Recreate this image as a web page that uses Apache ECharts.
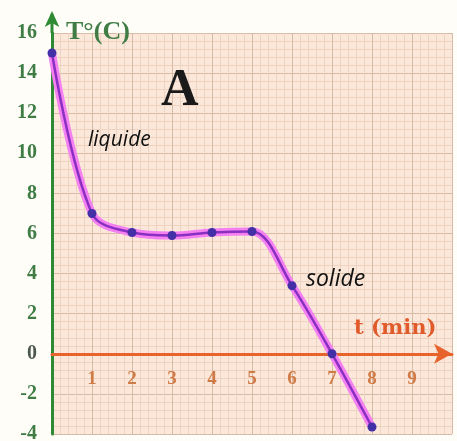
<!DOCTYPE html>
<html>
<head>
<meta charset="utf-8">
<script src="https://cdn.jsdelivr.net/npm/echarts@6/dist/echarts.min.js"></script>
<style>
  html, body { margin: 0; padding: 0; background: #fffdf8; }
  #chart { width: 457px; height: 441px; }
</style>
</head>
<body>
<div id="chart"></div>
<script>
// temps relevees chaque minute
var times = [0, 1, 2, 3, 4, 5, 6, 7, 8];
var temps = [15, 7, 6.05, 5.9, 6.05, 6.1, 3.4, 0, -3.65];
var yTicks = [-4, -2, 0, 2, 4, 6, 8, 10, 12, 14, 16];
var xTicks = [1, 2, 3, 4, 5, 6, 7, 8, 9];

var points = times.map(function (t, i) { return [t, temps[i]]; });

function txt(left, top, text, color, size, weight, family, style) {
  return {
    left: left,
    top: top,
    text: text,
    padding: 0,
    textStyle: {
      color: color,
      fontSize: size,
      fontWeight: weight,
      fontFamily: family,
      fontStyle: style || "normal"
    }
  };
}

var chart = echarts.init(document.getElementById("chart"));
var option = {
  backgroundColor: "#fffdf8",
  animation: false,
  title: [
    txt(66, 19, "T°(C)", "#3f7d45", 26, "bold", "Liberation Serif"),
    txt(161, 66, "A", "#1a1a1a", 52, "bold", "Liberation Serif"),
    txt(88, 130, "liquide", "#111", 21, "normal", "Open Sans", "italic"),
    txt(306, 268, "solide", "#111", 23, "normal", "Open Sans", "italic"),
    txt(354, 318, "t (min)", "#e05a2a", 21, "bold", "DejaVu Serif")
  ],
  grid: {
    left: 52,
    right: 5,
    top: 33,
    bottom: 7,
    outerBoundsMode: "none",
    containLabel: false,
    show: true,
    backgroundColor: "#fbe8da",
    borderWidth: 0
  },
  xAxis: {
    type: "value",
    min: 0,
    max: 10,
    interval: 1,
    axisLine: {
      onZero: true,
      symbol: ["none", "arrow"],
      symbolSize: [15, 18],
      symbolOffset: [0, 0],
      lineStyle: { color: "#e8622c", width: 3 }
    },
    axisTick: { show: false },
    axisLabel: {
      margin: -64,
      color: "#d07a45",
      fontFamily: "Liberation Serif",
      fontWeight: "bold",
      fontSize: 19,
      formatter: function (v) {
        return xTicks.indexOf(v) >= 0 ? String(v) : "";
      }
    },
    splitLine: { show: true, lineStyle: { color: "#d6bca6", width: 1 } },
    minorTick: { show: false, splitNumber: 5 },
    minorSplitLine: { show: true, lineStyle: { color: "#eed3c0", width: 1 } }
  },
  yAxis: {
    type: "value",
    min: -4,
    max: 16,
    interval: 2,
    axisLine: {
      onZero: false,
      symbol: ["none", "arrow"],
      symbolSize: [11, 16],
      symbolOffset: [0, 22],
      lineStyle: { color: "#2f8a34", width: 3 }
    },
    axisTick: { show: false },
    axisLabel: {
      margin: 15,
      color: "#3f7d45",
      fontFamily: "Liberation Serif",
      fontWeight: "bold",
      fontSize: 20,
      formatter: function (v) {
        if (v === 0) return "{z|0}";
        return yTicks.indexOf(v) >= 0 ? String(v) : "";
      },
      rich: {
        z: { color: "#4d5a4f", fontFamily: "Liberation Serif", fontWeight: "bold", fontSize: 20 }
      }
    },
    splitLine: { show: true, lineStyle: { color: "#d6bca6", width: 1 } },
    minorTick: { show: false, splitNumber: 5 },
    minorSplitLine: { show: true, lineStyle: { color: "#eed3c0", width: 1 } }
  },
  graphic: [
    {
      type: "line",
      shape: { x1: 52, y1: 33, x2: 52, y2: 14 },
      style: { stroke: "#2f8a34", lineWidth: 3 }
    }
  ],
  series: [
    {
      name: "glow",
      type: "line",
      data: points,
      smooth: 0.35,
      symbol: "none",
      silent: true,
      lineStyle: { color: "#f480f2", width: 8 },
      z: 2
    },
    {
      name: "T",
      type: "line",
      data: points,
      smooth: 0.35,
      symbol: "circle",
      symbolSize: 9,
      itemStyle: { color: "#4430a6" },
      lineStyle: { color: "#8a2fc0", width: 2.5 },
      z: 3
    }
  ]
};
chart.setOption(option);
</script>
</body>
</html>
